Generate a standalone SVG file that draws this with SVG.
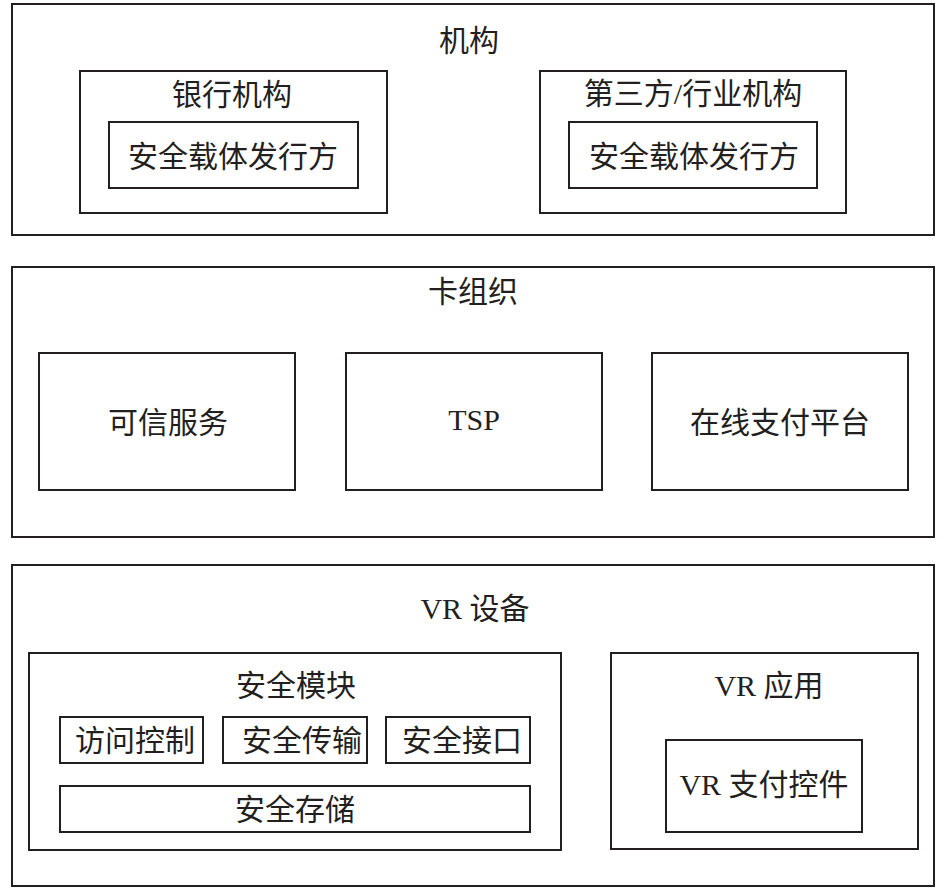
<svg xmlns="http://www.w3.org/2000/svg" width="946" height="888" viewBox="0 0 946 888">
<style>
rect{fill:none;stroke:#231f20;stroke-width:2}
text{font-family:"Liberation Serif","Noto Sans CJK SC",serif;font-size:30px;fill:#231f20;text-anchor:middle}
</style>
<rect x="0" y="0" width="946" height="888" style="fill:#fff;stroke:none"/>
<g id="org">
<rect x="12" y="4" width="922" height="231"/>
<text x="469" y="51">机构</text>
</g>
<g id="bank">
<rect x="80" y="71" width="307" height="142"/>
<text x="232" y="105">银行机构</text>
</g>
<g id="bank-issuer">
<rect x="109" y="122" width="249" height="66"/>
<text x="233" y="167">安全载体发行方</text>
</g>
<g id="third">
<rect x="540" y="71" width="306" height="142"/>
<text x="693" y="104">第三方/行业机构</text>
</g>
<g id="third-issuer">
<rect x="569" y="122" width="248" height="66"/>
<text x="694" y="167">安全载体发行方</text>
</g>
<g id="card-org">
<rect x="12" y="267" width="922" height="270"/>
<text x="473" y="302">卡组织</text>
</g>
<g id="trusted">
<rect x="39" y="353" width="256" height="137"/>
<text x="168" y="433">可信服务</text>
</g>
<g id="tsp">
<rect x="346" y="353" width="256" height="137"/>
<text x="474" y="430">TSP</text>
</g>
<g id="online-pay">
<rect x="652" y="353" width="256" height="137"/>
<text x="780" y="433">在线支付平台</text>
</g>
<g id="vr-device">
<rect x="12" y="565" width="922" height="321"/>
<text x="475" y="619">VR 设备</text>
</g>
<g id="sec-module">
<rect x="29" y="653" width="532" height="197"/>
<text x="296" y="696">安全模块</text>
</g>
<g id="access">
<rect x="60" y="717" width="143" height="46"/>
<text x="135" y="751">访问控制</text>
</g>
<g id="transfer">
<rect x="223" y="717" width="144" height="46"/>
<text x="302" y="751">安全传输</text>
</g>
<g id="interface">
<rect x="386" y="717" width="144" height="46"/>
<text x="462" y="751">安全接口</text>
</g>
<g id="storage">
<rect x="60" y="786" width="470" height="46"/>
<text x="295" y="820">安全存储</text>
</g>
<g id="vr-app">
<rect x="611" y="653" width="307" height="196"/>
<text x="769" y="696">VR 应用</text>
</g>
<g id="vr-pay">
<rect x="666" y="740" width="196" height="92"/>
<text x="764" y="795">VR 支付控件</text>
</g>
<g id="connectors"/>
</svg>
